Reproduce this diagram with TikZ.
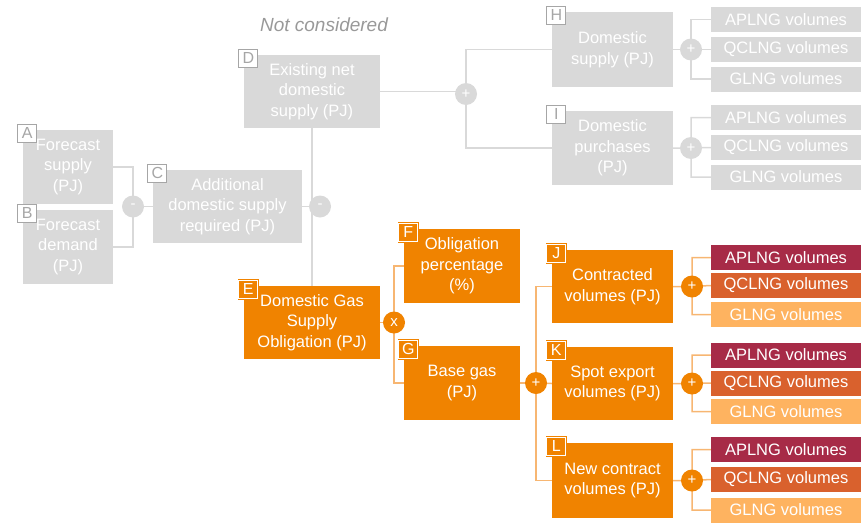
\documentclass[tikz,border=0pt]{standalone}
\usepackage{fontspec}
\setmainfont{Liberation Sans}
\usetikzlibrary{calc}
\definecolor{gbox}{HTML}{D9D9D9}
\definecolor{gline}{HTML}{D9D9D9}
\definecolor{gtag}{HTML}{A6A6A6}
\definecolor{obox}{HTML}{F08300}
\definecolor{oline}{HTML}{F7B672}
\definecolor{cAP}{HTML}{A72B47}
\definecolor{cQC}{HTML}{D9612D}
\definecolor{cGL}{HTML}{FEB360}
\definecolor{ncol}{HTML}{999999}
\pgfdeclarelayer{bg}
\pgfsetlayers{bg,main}
\begin{document}
\begin{tikzpicture}[x=1pt,y=-1pt,
 box/.style={rectangle, inner sep=0pt, align=center, text=white, font=\fontsize{16.5}{20.5}\selectfont},
 gbx/.style={box, fill=gbox},
 obx/.style={box, fill=obox},
 sub/.style={box, minimum width=150pt, minimum height=25pt},
 opnode/.style={circle, minimum size=22pt, inner sep=0pt, text=white, font=\fontsize{15}{15}\selectfont},
 gop/.style={opnode, fill=gbox},
 oop/.style={opnode, fill=obox},
 tagnode/.style={rectangle, minimum width=19pt, minimum height=18pt, inner sep=0pt, font=\fontsize{16}{16}\selectfont},
 gtg/.style={tagnode, fill=white, draw=gtag, text=gtag, line width=0.8pt},
 otg/.style={tagnode, fill=obox, draw=obox, double=white, double distance=1.2pt, line width=0.7pt, text=white},
 glink/.style={draw=gline, line width=1.5pt},
 olink/.style={draw=oline, line width=1.5pt},
]
\useasboundingbox (0,0) rectangle (861,522);

% Title
\node[font=\fontsize{19}{19}\selectfont\itshape, text=ncol] (nc) at (324,25) {Not considered};

% Main boxes
\node[gbx, minimum width=90pt, minimum height=74pt] (A) at (68,167) {Forecast\\supply\\(PJ)};
\node[gbx, minimum width=90pt, minimum height=74pt] (B) at (68,247) {Forecast\\demand\\(PJ)};
\node[gbx, minimum width=149pt, minimum height=73pt] (C) at (227.5,206.5) {Additional\\domestic supply\\required (PJ)};
\node[gbx, minimum width=136pt, minimum height=73pt] (D) at (312,91.5) {Existing net\\domestic\\supply (PJ)};
\node[obx, minimum width=136pt, minimum height=73pt] (E) at (312,322.5) {Domestic Gas\\Supply\\Obligation (PJ)};
\node[obx, minimum width=116pt, minimum height=74pt] (F) at (462,266) {Obligation\\percentage\\(\%)};
\node[obx, minimum width=116pt, minimum height=74pt] (G) at (462,383) {Base gas\\(PJ)};
\node[gbx, minimum width=121pt, minimum height=75pt] (H) at (612.5,49.5) {Domestic\\supply (PJ)};
\node[gbx, minimum width=121pt, minimum height=74pt] (I) at (612.5,148) {Domestic\\purchases\\(PJ)};
\node[obx, minimum width=121pt, minimum height=73pt] (J) at (612.5,286.5) {Contracted\\volumes (PJ)};
\node[obx, minimum width=121pt, minimum height=73pt] (K) at (612.5,383.5) {Spot export\\volumes (PJ)};
\node[obx, minimum width=121pt, minimum height=75pt] (L) at (612.5,480.5) {New contract\\volumes (PJ)};

% Sub boxes
\node[sub, fill=gbox] (H1) at (786,19.5) {APLNG volumes};
\node[sub, fill=gbox] (H2) at (786,49.5) {QCLNG volumes};
\node[sub, fill=gbox] (H3) at (786,79) {GLNG volumes};
\node[sub, fill=gbox] (I1) at (786,117.5) {APLNG volumes};
\node[sub, fill=gbox] (I2) at (786,147.5) {QCLNG volumes};
\node[sub, fill=gbox] (I3) at (786,177) {GLNG volumes};
\node[sub, fill=cAP] (J1) at (786,257.5) {APLNG volumes};
\node[sub, fill=cQC] (J2) at (786,285.5) {QCLNG volumes};
\node[sub, fill=cGL] (J3) at (786,314.5) {GLNG volumes};
\node[sub, fill=cAP] (K1) at (786,355) {APLNG volumes};
\node[sub, fill=cQC] (K2) at (786,383) {QCLNG volumes};
\node[sub, fill=cGL] (K3) at (786,411.5) {GLNG volumes};
\node[sub, fill=cAP] (L1) at (786,449.5) {APLNG volumes};
\node[sub, fill=cQC] (L2) at (786,479.5) {QCLNG volumes};
\node[sub, fill=cGL] (L3) at (786,510) {GLNG volumes};

% Tags
\foreach \n in {A,B,C,D,H,I}
  \node[gtg] (t\n) at ($(\n.north west)+(4.5,3.5)$) {\n};
\foreach \n in {E,F,G,J,K,L}
  \node[otg] (t\n) at ($(\n.north west)+(4.5,3.5)$) {\n};

% Operators
\node[gop] (oAB) at (133,206.5) {-};
\node[gop] (oCD) at (320,206.5) {-};
\node[gop] (oD) at (466,94) {+};
\node[gop] (oH) at (691,49.5) {+};
\node[gop] (oI) at (691,148) {+};
\node[oop] (oE) at (394,322.5) {x};
\node[oop] (oG) at (536,383) {+};
\node[oop] (oJ) at (692,286.5) {+};
\node[oop] (oK) at (692,383.5) {+};
\node[oop] (oL) at (692,480.5) {+};

% Connectors
\begin{pgfonlayer}{bg}
\draw[glink] (A.east) -| (oAB.center) |- (B.east);
\draw[glink] (oAB.center) -- (C.west);
\draw[glink] (C.east) -- (oCD.center);
\draw[glink] (D.south) -- (E.north);
\draw[glink] (D.east) -- (D.east -| oD.center);
\draw[glink] (H.west) -| (oD.center) |- (I.west);
\foreach \p in {H,I}
  \draw[glink] (\p.east) -- (o\p.center) (\p1.west) -| (o\p.center) |- (\p3.west) (\p2.west) -- (o\p.center);
\draw[olink] (E.east) -- (oE.center);
\draw[olink] (F.west) -| (oE.center) |- (G.west);
\draw[olink] (G.east) -- (oG.center);
\draw[olink] (J.west) -| (oG.center) |- (L.west);
\draw[olink] (K.west) -- (oG.center);
\foreach \p in {J,K,L}
  \draw[olink] (\p.east) -- (o\p.center) (\p1.west) -| (o\p.center) |- (\p3.west) (\p2.west) -- (o\p.center);
\end{pgfonlayer}
\end{tikzpicture}
\end{document}
